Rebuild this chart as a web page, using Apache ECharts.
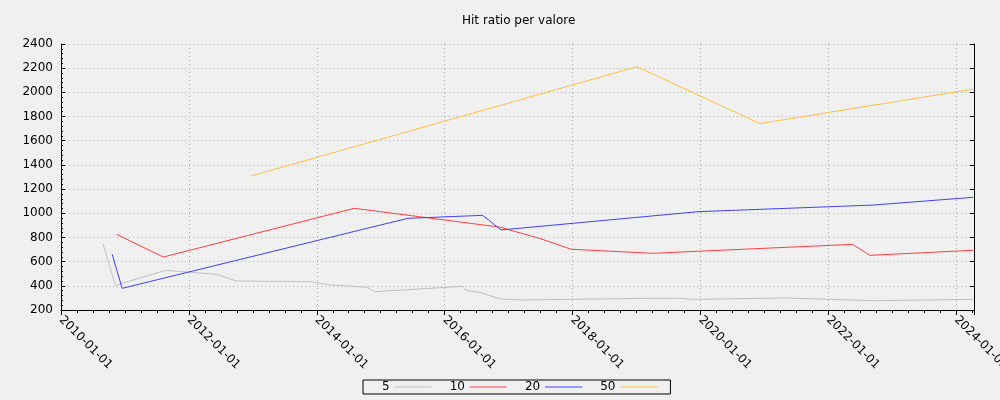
<!DOCTYPE html>
<html>
<head>
<meta charset="utf-8">
<script src="https://cdn.jsdelivr.net/npm/echarts@6/dist/echarts.min.js"></script>
<style>
html,body{margin:0;padding:0;background:#f0f0f0;}
#c{width:1000px;height:400px;}
</style>
</head>
<body>
<div id="c"></div>
<script>
const titleText = 'Hit ratio per valore';
const seriesNames = ['5', '10', '20', '50'];
const seriesColors = ['#c0c0c0', '#ff4040', '#4040ff', '#ffc040'];

const dates5 = ['2010-08-29','2010-11-08','2010-12-16','2011-08-21','2012-06-09','2012-09-26','2013-11-28','2014-03-23','2014-10-18','2014-11-25','2016-04-13','2016-04-27','2016-07-27','2016-09-03','2016-11-18','2017-03-21','2019-04-03','2019-09-05','2019-11-18','2021-04-27','2022-09-13','2024-04-07'];
const values5 = [746,401,421,528,495,440,434,407,388,351,396,365,343,324,291,283,297,297,288,299,277,288];

const dates10 = ['2010-11-14','2011-08-08','2014-08-03','2016-11-09','2017-06-26','2017-12-25','2019-04-05','2022-05-19','2022-08-26','2024-04-09'];
const values10 = [826,638,1041,886,793,702,669,743,652,694];

const dates20 = ['2010-10-20','2010-12-16','2015-06-04','2016-08-06','2016-11-19','2019-12-18','2022-09-14','2024-04-07'];
const values20 = [661,379,958,983,862,1013,1068,1132];

const dates50 = ['2012-12-20','2019-01-04','2020-12-06','2024-04-12'];
const values50 = [1308,2212,1742,2028];

const xStart = '2010-01-01';
const xEnd = '2024-04-12';
const yMin = 200, yMax = 2400, yStep = 200;

function toYear(s){
  const p = s.split('-').map(Number);
  const a = Date.UTC(p[0],0,1), b = Date.UTC(p[0]+1,0,1);
  return p[0] + (Date.UTC(p[0],p[1]-1,p[2]) - a)/(b - a);
}
function pairs(ds, vs){ return ds.map((d,i)=>[toYear(d), vs[i]]); }

const allData = [pairs(dates5,values5), pairs(dates10,values10), pairs(dates20,values20), pairs(dates50,values50)];
const font = 'DejaVu Sans';

const chart = echarts.init(document.getElementById('c'), null, {renderer:'canvas'});
chart.setOption({
  backgroundColor: '#f0f0f0',
  animation: false,
  title: {
    text: titleText, left: 462, top: 15, padding: 0,
    textStyle: {fontFamily: font, fontSize: 12, fontWeight: 'normal', color: '#000'}
  },
  legend: {
    data: seriesNames.map(n=>({name:n})),
    left: 363, top: 380,
    padding: [0, 13, 0, 19],
    borderColor: '#000', borderWidth: 1,
    align: 'right',
    icon: 'rect', itemWidth: 37, itemHeight: 1, itemGap: 18,
    textStyle: {fontFamily: font, fontSize: 12, color: '#000', lineHeight: 14}
  },
  grid: {left: 61, right: 26, top: 44, bottom: 90, containLabel: false, outerBoundsMode: 'none'},
  xAxis: {
    type: 'value',
    min: toYear(xStart), max: toYear(xEnd), interval: 2,
    axisLine: {show: true, onZero: false, lineStyle: {color: '#000', width: 1}},
    axisTick: {show: true, inside: false, length: 5, lineStyle: {color: '#000'}},
    minorTick: {show: true, splitNumber: 8, length: 3, lineStyle: {color: '#000'}},
    splitLine: {show: true, lineStyle: {color: '#b0b0b0', type: [1, 3], width: 1}},
    axisLabel: {
      rotate: -45, margin: 8, fontFamily: font, fontSize: 12, color: '#000',
      showMaxLabel: false, hideOverlap: false,
      formatter: v => (Math.abs(v - Math.round(v)) < 1e-6 ? Math.round(v) + '-01-01' : '')
    }
  },
  yAxis: [{
    type: 'value', min: yMin, max: yMax, interval: yStep,
    axisLine: {show: true, lineStyle: {color: '#000', width: 1}},
    axisTick: {show: true, inside: true, length: 4, lineStyle: {color: '#000'}},
    minorTick: {show: true, splitNumber: 5, length: 2, lineStyle: {color: '#000'}},
    splitLine: {show: true, lineStyle: {color: '#b0b0b0', type: [1, 3], width: 1}},
    axisLabel: {fontFamily: font, fontSize: 12, color: '#000', margin: 8, formatter: v => String(v)}
  },{
    type: 'value', position: 'right', min: yMin, max: yMax, interval: yStep,
    axisLine: {show: true, lineStyle: {color: '#000', width: 1}},
    axisTick: {show: true, inside: true, length: 4, lineStyle: {color: '#000'}},
    splitLine: {show: false},
    axisLabel: {show: false}
  }],
  series: seriesNames.map((n,i)=>({
    name: n, type: 'line', data: allData[i],
    showSymbol: false, symbol: 'none',
    lineStyle: {color: seriesColors[i], width: 1},
    itemStyle: {color: seriesColors[i]},
    emphasis: {disabled: true}
  }))
});
</script>
</body>
</html>
